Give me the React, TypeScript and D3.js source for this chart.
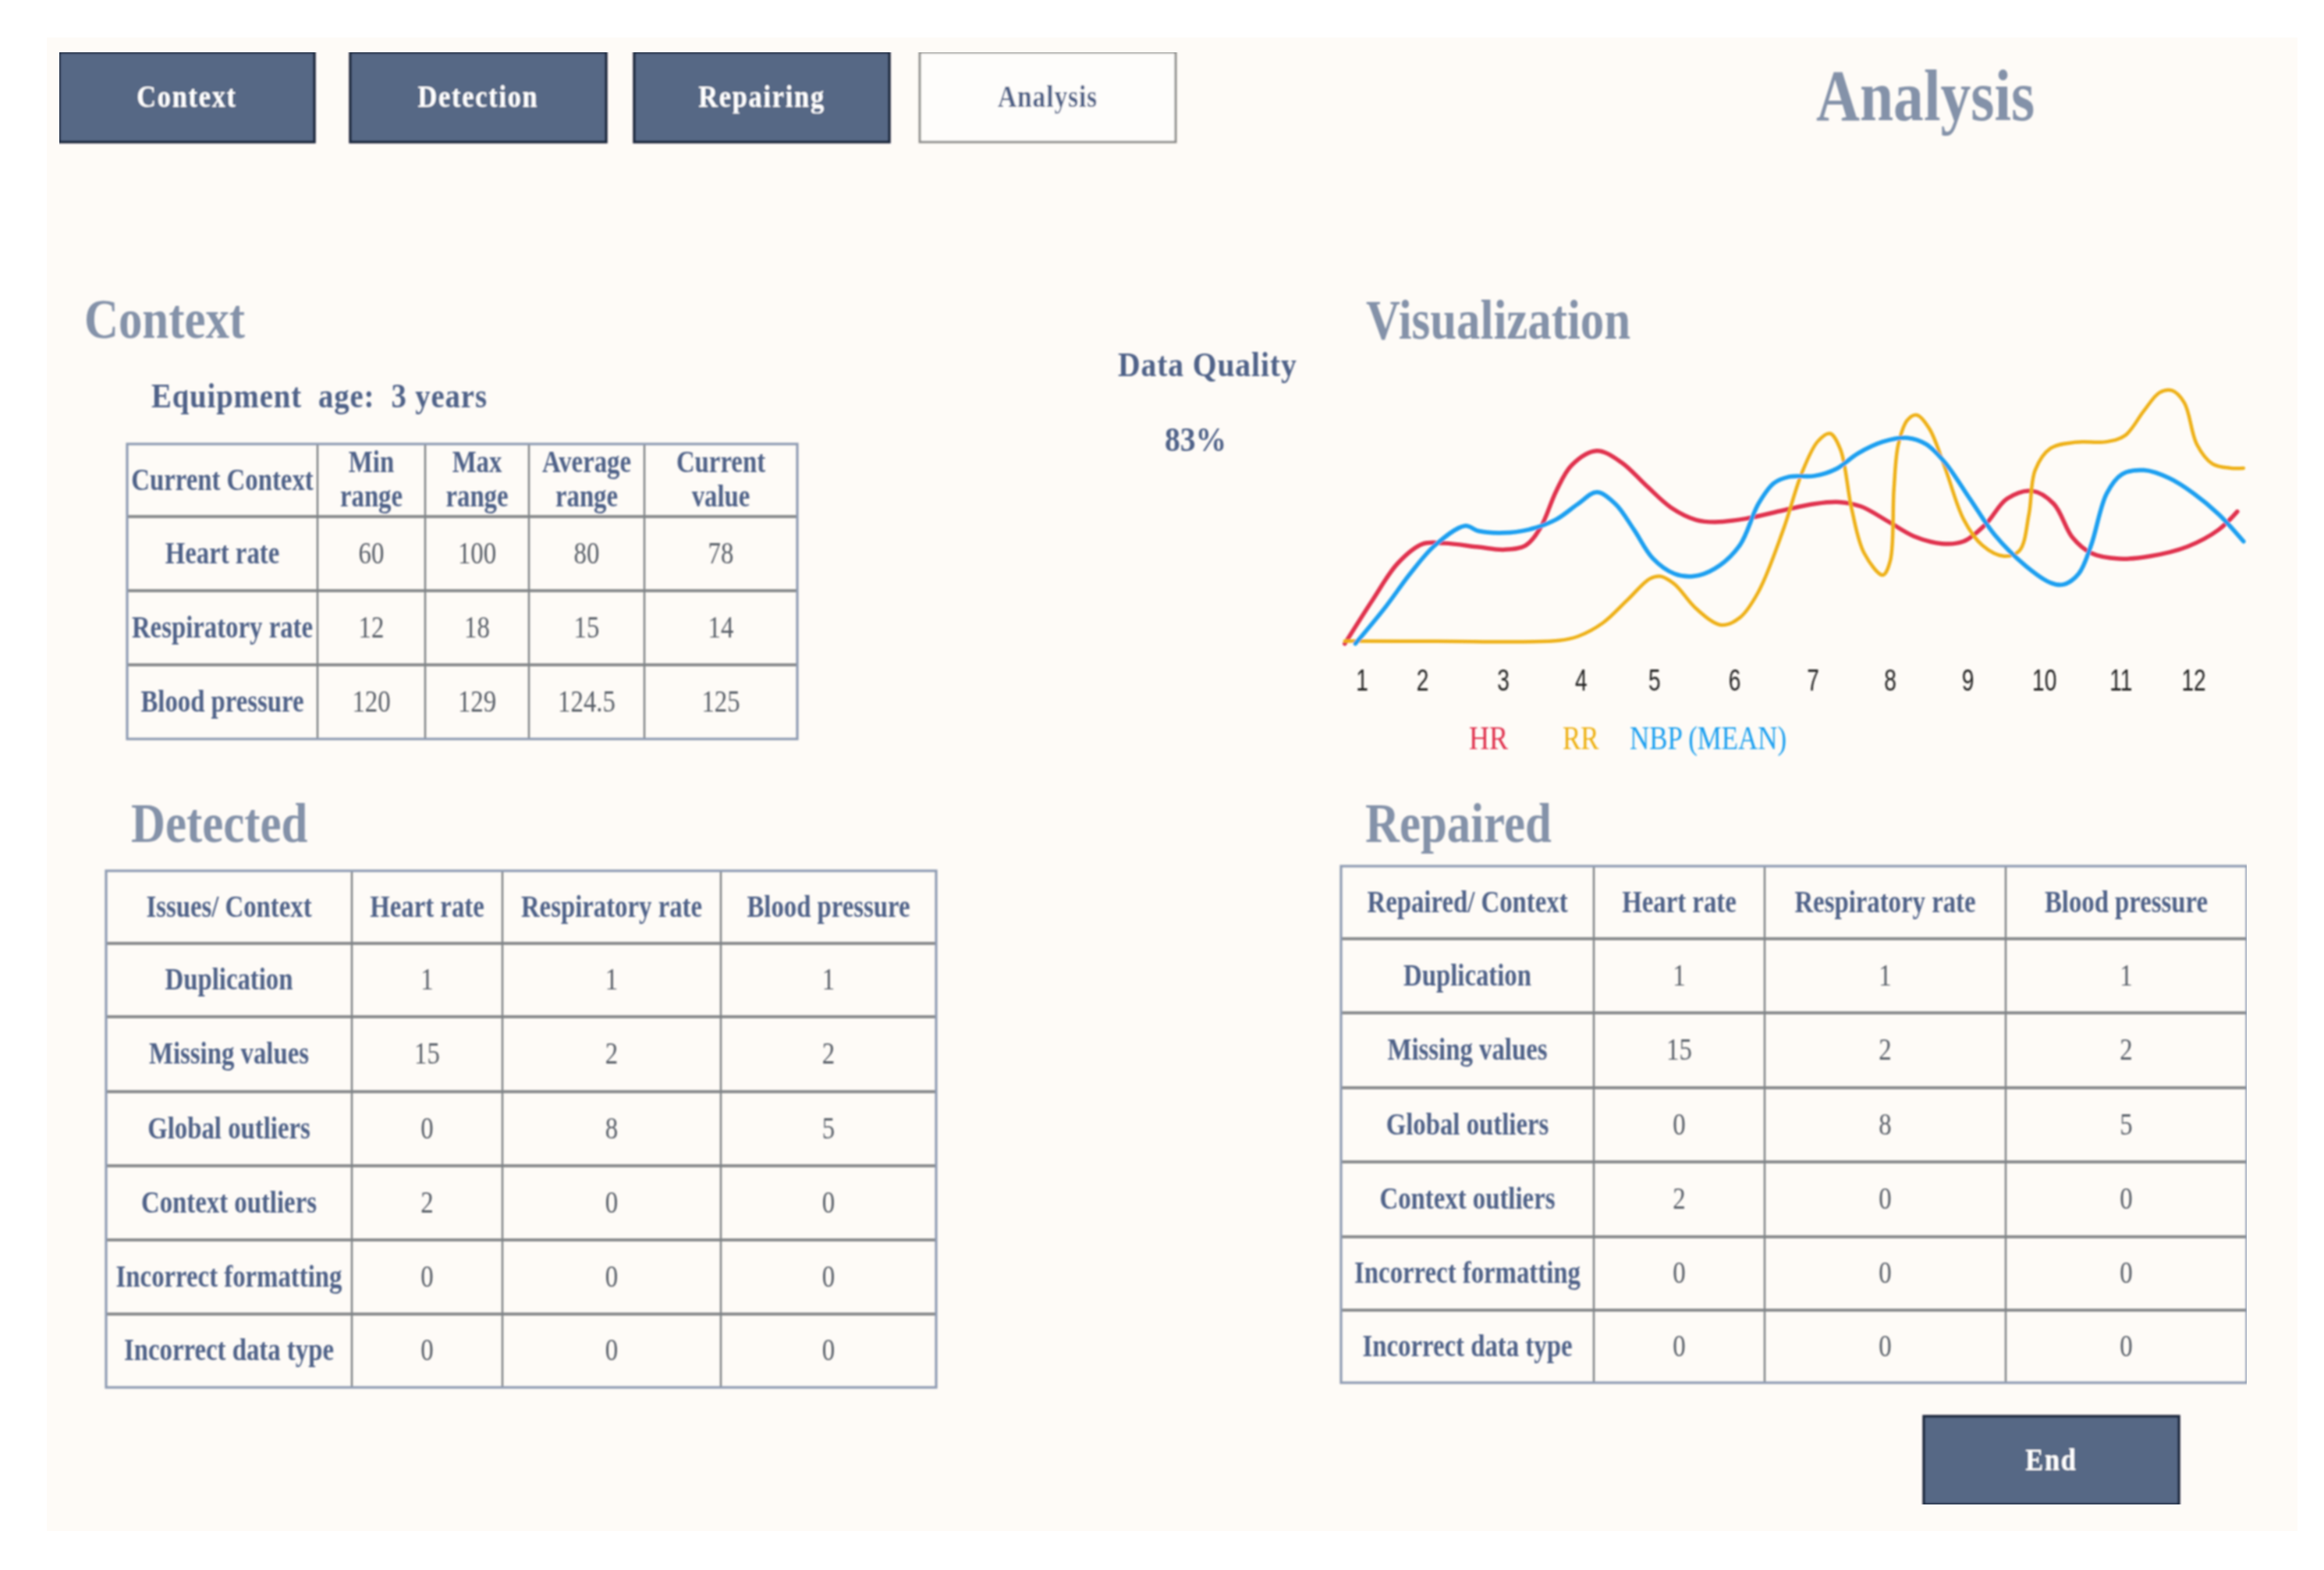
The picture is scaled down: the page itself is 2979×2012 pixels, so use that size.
import React from "react";
import * as d3 from "d3";

const W = 2979, H = 2012;
const NAVY = "#566785", TXT = "#4f6288", HEAD = "#8492a9", VAL = "#585e68", EDGE = "#8a8c8e", OUT = "#8f9cb2";

const navButtons = ["Context", "Detection", "Repairing", "Analysis"];

const contextHead = [["Current Context"], ["Min", "range"], ["Max", "range"], ["Average", "range"], ["Current", "value"]];
const contextRows = ["Heart rate", "Respiratory rate", "Blood pressure"];
const contextMin = ["60", "12", "120"];
const contextMax = ["100", "18", "129"];
const contextAvg = ["80", "15", "124.5"];
const contextCur = ["78", "14", "125"];

const issueRows = ["Duplication", "Missing values", "Global outliers", "Context outliers", "Incorrect formatting", "Incorrect data type"];
const heartRate = ["1", "15", "0", "2", "0", "0"];
const respRate = ["1", "2", "8", "0", "0", "0"];
const bloodPressure = ["1", "2", "5", "0", "0", "0"];
const issueCols = ["Heart rate", "Respiratory rate", "Blood pressure"];

const tickLabels = ["1", "2", "3", "4", "5", "6", "7", "8", "9", "10", "11", "12"];
const tickTimes = [8.3, 18, 31, 43.5, 55.3, 68.2, 80.8, 93.2, 105.7, 118, 130.3, 142];

const hrTime = [5.5,10,14,18,21.5,27,31,34.5,37,39.5,42,46,50,54,58,62,65,70,76,81,85,88.5,93,97,101.5,105,108.5,112,116,119.5,122.5,125.5,130,135,141,146,149];
const hrVal = [0,17,31,38.5,38.8,37.3,36.3,37.8,45,59,69,74.5,70,61,52.5,47.8,47,48.3,51.5,54,54.7,53,47,41.5,38.6,39.5,46,56,59,54,41,35,32.8,33.8,37.5,44,51];
const rrTime = [5.5,20,40,43,47,51,54.5,56.2,58.5,62,66,69,72,76,79,81.5,83.5,85.2,87,89,92,93.2,93.8,94.5,96,97.5,99.5,102,105,108,111.5,114,115.5,116.5,119,123,128,131,134,136.5,138.5,140.5,142.5,145,148,150];
const rrVal = [1,0.9,1.2,2.8,8,17,25,26,23,13.5,7.2,10,20,44,66,78,81.2,75,52,35,26.5,32,60,77,86.5,88.3,83,68,48,38,33.8,36,50,67,75.5,77.8,78,80.5,90,97,97.8,93,77,69.5,67.8,67.8];
const nbpTime = [7.2,12,16,20,24.8,27,31,35,39.5,43,46,49,52,55,58.5,61.5,65,69,72,74.5,77,81,84.5,88,92,96,99,102,106,110,115,119,121,123.5,125.5,128,130.5,134,138,142,146,150];
const nbpVal = [0,14,27,38,45.5,43.5,42.8,44,48,54,58.5,54,44,33,27,26,29,38,54,62,64.5,64.8,67.5,73.5,78,79.5,77,70,56,42,30,23.5,22.8,27,38,58,65.5,67,64,58,50,39.5];

const x = d3.scaleLinear().domain([0, 156.8]).range([1680, 2930]);
const y = d3.scaleLinear().domain([0, 110]).range([824.8, 460]);
const line = d3.line<[number, number]>().x(d => x(d[0])).y(d => y(d[1])).curve(d3.curveCatmullRom.alpha(0.5));
const seriesList = [
  { name: "HR", t: hrTime, v: hrVal, color: "#e0304e", width: 5.5 },
  { name: "RR", t: rrTime, v: rrVal, color: "#eeb012", width: 4.5 },
  { name: "NBP (MEAN)", t: nbpTime, v: nbpVal, color: "#1a9ff0", width: 5.5 },
];

function T({ x, y, s, size = 41, sx = 0.8, fill = TXT, bold = true, family = "Liberation Serif", anchor = "middle", ls = 0 }: any) {
  return (
    <text transform={`translate(${x},${y}) scale(${sx},1)`} fontFamily={family} fontSize={size} fontWeight={bold ? 700 : 400}
      fill={fill} textAnchor={anchor} letterSpacing={ls} style={{ whiteSpace: "pre" }}>{s}</text>
  );
}

function Table({ xs, ys, head, rows }: { xs: number[]; ys: number[]; head: string[][]; rows: string[][] }) {
  const mid = (a: number[], i: number) => (a[i] + a[i + 1]) / 2;
  return (
    <g>
      {ys.slice(1, -1).map((v, i) => <line key={i} x1={xs[0]} x2={xs[xs.length - 1]} y1={v} y2={v} stroke={EDGE} strokeWidth={4} />)}
      {xs.slice(1, -1).map((v, i) => <line key={i} x1={v} x2={v} y1={ys[0]} y2={ys[ys.length - 1]} stroke="#808488" strokeWidth={2.5} />)}
      <rect x={xs[0]} y={ys[0]} width={xs[xs.length - 1] - xs[0]} height={ys[ys.length - 1] - ys[0]} fill="none" stroke={OUT} strokeWidth={3.2} />
      {head.map((h, c) => h.length === 1
        ? <T key={c} x={mid(xs, c)} y={mid(ys, 0) + 12} s={h[0]} />
        : <g key={c}><T x={mid(xs, c)} y={ys[0] + 36} s={h[0]} /><T x={mid(xs, c)} y={ys[0] + 80} s={h[1]} /></g>)}
      {rows.map((r, i) => r.map((cell, c) => (
        <T key={`${i}-${c}`} x={mid(xs, c)} y={mid(ys, i + 1) + 12} s={cell} bold={c === 0} fill={c === 0 ? TXT : VAL} sx={c === 0 ? 0.8 : 0.8} />
      )))}
    </g>
  );
}

function Button({ x0, x1, y0, y1, s, active }: any) {
  return (
    <g>
      <rect x={x0} y={y0} width={x1 - x0} height={y1 - y0} fill={active ? "#fefdfb" : NAVY} stroke={active ? "#8f8f8c" : "#1f2a3f"} strokeWidth={active ? 3 : 3.5} />
      <T x={(x0 + x1) / 2} y={(y0 + y1) / 2 + 12} s={s} size={39} sx={active ? 0.86 : 0.88} ls={active ? 1 : 2} fill={active ? TXT : "#ffffff"} />
    </g>
  );
}

const navX = [[76, 403], [449, 777], [813, 1140], [1179, 1507]];
const ctxRows = contextRows.map((n, i) => [n, contextMin[i], contextMax[i], contextAvg[i], contextCur[i]]);
const issRows = issueRows.map((n, i) => [n, heartRate[i], respRate[i], bloodPressure[i]]);

export default function App() {
  return (
    <svg width={W} height={H} viewBox={`0 0 ${W} ${H}`} style={{ position: "absolute", left: 0, top: 0, background: "#ffffff" }}>
      <defs><filter id="soft" x="0" y="0" width="100%" height="100%"><feGaussianBlur stdDeviation="0.9" /></filter></defs>
      <rect x={60} y={48} width={2885} height={1914} fill="#fefbf7" />
      <g filter="url(#soft)">
        {navButtons.map((b, i) => <Button key={b} x0={navX[i][0]} x1={navX[i][1]} y0={67} y1={182} s={b} active={i === 3} />)}
        <Button x0={2466} x1={2793} y0={1815} y1={1928} s="End" />

        <T x={2328} y={154} s="Analysis" size={94} sx={0.825} fill={HEAD} anchor="start" />
        <T x={108} y={433} s="Context" size={72} sx={0.845} fill={HEAD} anchor="start" />
        <T x={1751} y={434} s="Visualization" size={72} sx={0.845} fill={HEAD} anchor="start" />
        <T x={168} y={1079} s="Detected" size={72} sx={0.845} fill={HEAD} anchor="start" />
        <T x={1750} y={1079} s="Repaired" size={72} sx={0.845} fill={HEAD} anchor="start" />
        <T x={194} y={522} s="Equipment  age:  3 years" size={44} sx={0.88} ls={1} anchor="start" />
        <T x={1433} y={482} s="Data Quality" size={44} sx={0.9} ls={1} anchor="start" />
        <T x={1493} y={578} s="83%" size={44} sx={0.9} anchor="start" />

        <Table xs={[163, 407, 545, 678, 826, 1022]} ys={[569, 662, 757, 852, 947]} head={contextHead} rows={ctxRows} />
        <Table xs={[136, 451, 644, 924, 1200]} ys={[1116, 1209, 1303, 1399, 1494, 1589, 1684, 1778]}
          head={[["Issues/ Context"], ...issueCols.map(c => [c])]} rows={issRows} />
        <Table xs={[1719, 2043, 2262, 2571, 2880]} ys={[1110, 1203, 1298, 1394, 1489, 1585, 1679, 1772]}
          head={[["Repaired/ Context"], ...issueCols.map(c => [c])]} rows={issRows} />

        {seriesList.map(s => (
          <path key={s.name} d={line(s.t.map((t, i) => [t, s.v[i]] as [number, number])) ?? ""} fill="none" stroke={s.color} strokeWidth={s.width} strokeLinecap="round" />
        ))}
        {tickLabels.map((l, i) => (
          <T key={l} x={x(tickTimes[i])} y={885} s={l} size={38} sx={0.74} bold={false} family="Liberation Sans" fill="#222222" />
        ))}
        <T x={1883} y={960} s="HR" size={42} sx={0.86} bold={false} fill={seriesList[0].color} anchor="start" />
        <T x={2003} y={960} s="RR" size={42} sx={0.83} bold={false} fill={seriesList[1].color} anchor="start" />
        <T x={2089} y={960} s="NBP (MEAN)" size={42} sx={0.83} bold={false} fill={seriesList[2].color} anchor="start" />
      </g>
    </svg>
  );
}
